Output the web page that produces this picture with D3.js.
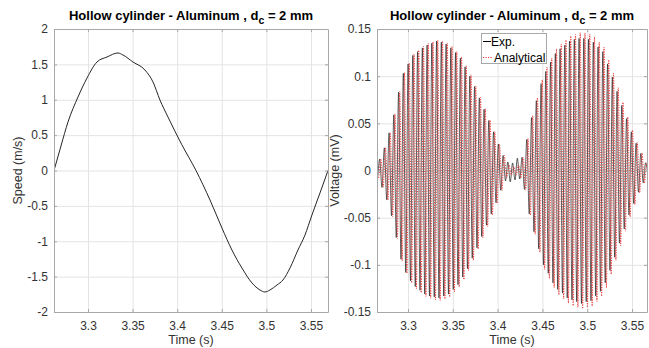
<html>
<head>
<meta charset="utf-8">
<script src="https://d3js.org/d3.v7.min.js"></script>
<style>
  body { margin: 0; background: #fff; }
  svg { font-family: "Liberation Sans", Arial, Helvetica, sans-serif; }
  .tick text { fill: #333; font-size: 12px; }
  .grid line { stroke: #e4e4e4; }
  .grid path { display: none; }
  .frame path, .frame line { stroke: #a8a8a8; }
</style>
</head>
<body>
<div id="chart"></div>
<script>
// ---- data ----
const xTicks = [3.3, 3.35, 3.4, 3.45, 3.5, 3.55];
const speedTicks = [-2, -1.5, -1, -0.5, 0, 0.5, 1, 1.5, 2];
const voltTicks = [-0.15, -0.1, -0.05, 0, 0.05, 0.1, 0.15];

const speedTime = [3.2619, 3.2697, 3.2776, 3.2888, 3.2989, 3.3101, 3.3213, 3.3336, 3.3392,
  3.3504, 3.3639, 3.3729, 3.3807, 3.3897, 3.4050, 3.4211, 3.4368, 3.4502, 3.4614, 3.4726,
  3.4839, 3.4928, 3.4984, 3.5040, 3.5119, 3.5186, 3.5265, 3.5354, 3.5433, 3.5511, 3.5601, 3.5691];
const speedVal = [0.0, 0.346, 0.686, 1.039, 1.307, 1.534, 1.604, 1.661, 1.633,
  1.534, 1.420, 1.251, 0.996, 0.756, 0.37, 0.0, -0.417, -0.813, -1.124, -1.378,
  -1.590, -1.689, -1.717, -1.689, -1.618, -1.548, -1.378, -1.124, -0.912, -0.629, -0.318, 0.0];

// voltage, one entry per peak of the oscillation
const expTime = [
  3.2630, 3.2657, 3.2683, 3.2710, 3.2736, 3.2763, 3.2789, 3.2816, 3.2842, 3.2869,
  3.2895, 3.2922, 3.2948, 3.2975, 3.3001, 3.3028, 3.3054, 3.3081, 3.3107, 3.3134,
  3.3160, 3.3187, 3.3213, 3.3240, 3.3266, 3.3293, 3.3319, 3.3346, 3.3372, 3.3399,
  3.3425, 3.3452, 3.3478, 3.3505, 3.3531, 3.3558, 3.3584, 3.3611, 3.3637, 3.3664,
  3.3690, 3.3717, 3.3743, 3.3770, 3.3796, 3.3823, 3.3849, 3.3876, 3.3902, 3.3929,
  3.3955, 3.3982, 3.4008, 3.4035, 3.4061, 3.4088, 3.4114, 3.4141, 3.4167, 3.4194,
  3.4220, 3.4247, 3.4273, 3.4300, 3.4326, 3.4353, 3.4379, 3.4406, 3.4432, 3.4459,
  3.4485, 3.4512, 3.4538, 3.4565, 3.4591, 3.4618, 3.4644, 3.4671, 3.4697, 3.4724,
  3.4750, 3.4777, 3.4803, 3.4830, 3.4856, 3.4883, 3.4909, 3.4936, 3.4962, 3.4989,
  3.5015, 3.5042, 3.5068, 3.5095, 3.5121, 3.5148, 3.5174, 3.5201, 3.5227, 3.5254,
  3.5280, 3.5307, 3.5333, 3.5360, 3.5386, 3.5413, 3.5439, 3.5466, 3.5492, 3.5519,
  3.5545, 3.5572, 3.5598, 3.5625, 3.5651, 3.5678];
const expVolt = [
  0.004, -0.008, 0.012, -0.018, 0.024, -0.031, 0.040, -0.048, 0.059, -0.071,
  0.083, -0.094, 0.103, -0.108, 0.113, -0.117, 0.122, -0.123, 0.126, -0.127,
  0.130, -0.131, 0.133, -0.133, 0.135, -0.134, 0.137, -0.135, 0.136, -0.133,
  0.134, -0.131, 0.130, -0.126, 0.125, -0.121, 0.119, -0.113, 0.110, -0.104,
  0.100, -0.093, 0.089, -0.082, 0.077, -0.070, 0.065, -0.058, 0.053, -0.046,
  0.041, -0.034, 0.028, -0.021, 0.016, -0.011, 0.009, -0.012, 0.008, -0.010,
  0.013, -0.009, 0.014, -0.020, 0.033, -0.046, 0.056, -0.065, 0.074, -0.083,
  0.092, -0.100, 0.105, -0.109, 0.115, -0.119, 0.124, -0.126, 0.129, -0.130,
  0.133, -0.135, 0.137, -0.137, 0.139, -0.139, 0.140, -0.141, 0.140, -0.139,
  0.139, -0.138, 0.136, -0.133, 0.131, -0.128, 0.126, -0.119, 0.113, -0.106,
  0.099, -0.092, 0.084, -0.077, 0.069, -0.062, 0.055, -0.047, 0.041, -0.035,
  0.029, -0.023, 0.018, -0.013, 0.008, -0.004];

const anaTime = [
  3.2643, 3.2670, 3.2696, 3.2723, 3.2749, 3.2776, 3.2802, 3.2829, 3.2855, 3.2882,
  3.2908, 3.2935, 3.2961, 3.2988, 3.3014, 3.3041, 3.3067, 3.3094, 3.3120, 3.3147,
  3.3173, 3.3200, 3.3226, 3.3253, 3.3279, 3.3306, 3.3332, 3.3359, 3.3385, 3.3412,
  3.3438, 3.3465, 3.3491, 3.3518, 3.3544, 3.3571, 3.3597, 3.3624, 3.3650, 3.3677,
  3.3703, 3.3730, 3.3756, 3.3783, 3.3809, 3.3836, 3.3862, 3.3889, 3.3915, 3.3942,
  3.3968, 3.3995, 3.4021, 3.4048, 3.4074, 3.4101, 3.4127, 3.4154, 3.4180, 3.4207,
  3.4233, 3.4260, 3.4286, 3.4313, 3.4339, 3.4366, 3.4392, 3.4419, 3.4445, 3.4472,
  3.4498, 3.4525, 3.4551, 3.4578, 3.4604, 3.4631, 3.4657, 3.4684, 3.4710, 3.4737,
  3.4763, 3.4790, 3.4816, 3.4843, 3.4869, 3.4896, 3.4922, 3.4949, 3.4975, 3.5002,
  3.5028, 3.5055, 3.5081, 3.5108, 3.5134, 3.5161, 3.5187, 3.5214, 3.5240, 3.5267,
  3.5293, 3.5320, 3.5346, 3.5373, 3.5399, 3.5426, 3.5452, 3.5479, 3.5505, 3.5532,
  3.5558, 3.5585, 3.5611, 3.5638, 3.5664, 3.5691];
const anaVolt = [
  0.004, -0.0083, 0.0124, -0.0177, 0.0242, -0.0313, 0.0399, -0.0489, 0.0600, -0.0721,
  0.0838, -0.0961, 0.1038, -0.1090, 0.1139, -0.1191, 0.1235, -0.1255, 0.1275, -0.1295,
  0.1314, -0.1334, 0.1347, -0.1355, 0.1364, -0.1372, 0.1380, -0.1379, 0.1370, -0.1360,
  0.1351, -0.1341, 0.1315, -0.1288, 0.1261, -0.1234, 0.1205, -0.1156, 0.1109, -0.1061,
  0.1014, -0.0953, 0.0895, -0.0833, 0.0775, -0.0713, 0.0654, -0.0593, 0.0534, -0.0473,
  0.0412, -0.0348, 0.0280, -0.0212, 0.0160, -0.008, 0.006, -0.005, 0.004, -0.005,
  0.006, -0.008, 0.0140, -0.0208, 0.0339, -0.0474, 0.0581, -0.0678, 0.0771, -0.0867,
  0.0961, -0.1049, 0.1096, -0.1145, 0.1193, -0.1242, 0.1289, -0.1318, 0.1340, -0.1361,
  0.1383, -0.1406, 0.1426, -0.1434, 0.1442, -0.1452, 0.1460, -0.1465, 0.1458, -0.1451,
  0.1445, -0.1437, 0.1416, -0.1388, 0.1361, -0.1333, 0.1306, -0.1244, 0.1174, -0.1101,
  0.1032, -0.0953, 0.0877, -0.0798, 0.0722, -0.0643, 0.0567, -0.0493, 0.0428, -0.0362,
  0.0297, -0.0237, 0.0186, -0.0134, 0.0083, -0.0042];

const width = 649;
const height = 348;
const plotTop = 29, plotBottom = 312;

const svg = d3.select("#chart").append("svg")
  .attr("width", width)
  .attr("height", height);

function zip(ts, vs) {
  return ts.map((t, i) => [t, vs[i]]);
}

// plain ascii minus like the original
const fmt = d => String(d);

function drawPanel(o) {
  const x = d3.scaleLinear().domain(o.xDomain).range([o.left, o.right]);
  const y = d3.scaleLinear().domain(o.yDomain).range([plotBottom, plotTop]);
  const w = o.right - o.left, h = plotBottom - plotTop;

  // grid
  svg.append("g").attr("class", "grid")
    .attr("transform", `translate(0,${plotBottom})`)
    .call(d3.axisBottom(x).tickValues(xTicks).tickSize(-h).tickFormat(""));
  svg.append("g").attr("class", "grid")
    .attr("transform", `translate(${o.left},0)`)
    .call(d3.axisLeft(y).tickValues(o.yTicks).tickSize(-w).tickFormat(""));

  // data
  const clipId = "clip" + o.id;
  svg.append("clipPath").attr("id", clipId)
    .append("rect").attr("x", o.left).attr("y", plotTop).attr("width", w).attr("height", h);
  const line = d3.line().curve(d3.curveMonotoneX).x(d => x(d[0])).y(d => y(d[1]));
  const g = svg.append("g").attr("clip-path", `url(#${clipId})`);
  o.series.forEach(s => {
    g.append("path")
      .datum(s.data)
      .attr("fill", "none")
      .attr("stroke", s.color)
      .attr("stroke-width", s.width)
      .attr("stroke-dasharray", s.dash)
      .attr("d", line);
  });

  // frame with inward ticks
  svg.append("g").attr("class", "frame")
    .attr("transform", `translate(0,${plotBottom})`)
    .call(d3.axisBottom(x).tickValues(xTicks).tickSizeInner(-3).tickSizeOuter(0).tickPadding(9).tickFormat(fmt))
    .call(a => a.selectAll("text").attr("dy", "0.71em"));
  svg.append("g").attr("class", "frame")
    .attr("transform", `translate(0,${plotTop})`)
    .call(d3.axisTop(x).tickValues(xTicks).tickSizeInner(-3).tickSizeOuter(0).tickFormat(""));
  svg.append("g").attr("class", "frame")
    .attr("transform", `translate(${o.left},0)`)
    .call(d3.axisLeft(y).tickValues(o.yTicks).tickSizeInner(-3).tickSizeOuter(0).tickPadding(6).tickFormat(fmt));
  svg.append("g").attr("class", "frame")
    .attr("transform", `translate(${o.right},0)`)
    .call(d3.axisRight(y).tickValues(o.yTicks).tickSizeInner(-3).tickSizeOuter(0).tickFormat(""));

  // title
  const cx = (o.left + o.right) / 2;
  const title = svg.append("text")
    .attr("x", cx).attr("y", 20)
    .attr("text-anchor", "middle")
    .attr("font-weight", "bold")
    .attr("font-size", 13)
    .attr("fill", "#000");
  title.append("tspan").text("Hollow cylinder - Aluminum , d");
  title.append("tspan").attr("dy", 4).attr("font-size", 10.5).text("c");
  title.append("tspan").attr("dy", -4).text(" = 2 mm");

  svg.append("text")
    .attr("x", cx).attr("y", 344)
    .attr("text-anchor", "middle")
    .attr("font-size", 12.5)
    .attr("fill", "#333")
    .text("Time (s)");

  svg.append("text")
    .attr("transform", `translate(${o.labelX},${(plotTop + plotBottom) / 2}) rotate(-90)`)
    .attr("text-anchor", "middle")
    .attr("font-size", 12.5)
    .attr("fill", "#333")
    .text(o.yLabel);

  return { x, y };
}

drawPanel({
  id: "a", left: 54, right: 328,
  xDomain: [3.2619, 3.5691], yDomain: [-2, 2], yTicks: speedTicks,
  yLabel: "Speed (m/s)", labelX: 22,
  series: [{ data: zip(speedTime, speedVal), color: "#262626", width: 1, dash: null }]
});

drawPanel({
  id: "b", left: 377, right: 647,
  xDomain: [3.2654, 3.5667], yDomain: [-0.15, 0.15], yTicks: voltTicks,
  yLabel: "Voltage (mV)", labelX: 339,
  series: [
    { data: zip(expTime, expVolt), color: "#1a1a1a", width: 0.7, dash: null },
    { data: zip(anaTime, anaVolt), color: "#ec3b3b", width: 1, dash: "1.2 1.3" }
  ]
});

// legend
const lg = svg.append("g");
lg.append("rect")
  .attr("x", 481.5).attr("y", 33.5).attr("width", 65).attr("height", 30)
  .attr("fill", "#fff").attr("stroke", "#a8a8a8");
lg.append("line").attr("x1", 483).attr("x2", 491).attr("y1", 41.5).attr("y2", 41.5)
  .attr("stroke", "#000");
lg.append("line").attr("x1", 483).attr("x2", 493).attr("y1", 57.5).attr("y2", 57.5)
  .attr("stroke", "#ec3b3b").attr("stroke-dasharray", "1.2 1.3");
lg.append("text").attr("x", 491).attr("y", 46).attr("font-size", 12).attr("fill", "#000").text("Exp.");
lg.append("text").attr("x", 494).attr("y", 61.5).attr("font-size", 12).attr("fill", "#000").text("Analytical");
</script>
</body>
</html>
